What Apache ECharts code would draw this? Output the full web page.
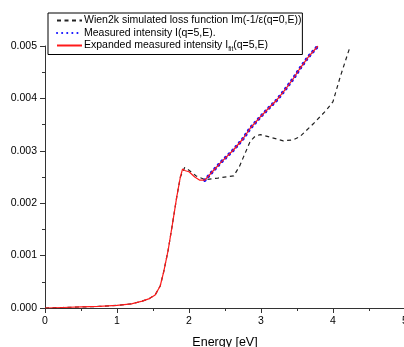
<!DOCTYPE html>
<html><head><meta charset="utf-8">
<script src="https://cdn.jsdelivr.net/npm/echarts@6/dist/echarts.min.js"></script>
<style>html,body{margin:0;padding:0;background:#fff}#c{width:404px;height:347px}</style>
</head><body><div id="c"></div>
<script>
const seriesNames = ['Wien2k simulated loss function Im(-1/ε(q=0,E))','Measured intensity I(q=5,E).','Expanded measured intensity I(q=5,E)'];
const xTicks = [0,1,2,3,4,5];
// Wien2k simulated
const simE = [0,0.25,0.5,0.75,1.0,1.2,1.35,1.45,1.53,1.6,1.65,1.71,1.77,1.83,1.88,1.94,2.0,2.1,2.22,2.4,2.62,2.7,2.75,2.85,2.92,2.99,3.125,3.31,3.45,3.54,3.73,3.91,4.0,4.1,4.24];
const simV = [0,0.00001,0.00002,0.00003,0.00005,0.00008,0.00013,0.00018,0.00025,0.00042,0.0007,0.0011,0.0016,0.00212,0.0025,0.00268,0.00263,0.00252,0.00245,0.00248,0.00252,0.0027,0.00286,0.00318,0.00328,0.00331,0.00326,0.00319,0.00321,0.00327,0.00352,0.00378,0.00394,0.00441,0.005];
// Measured intensity
const measE = [2.22,2.33,2.45,2.62,2.75,2.85,3.0,3.125,3.22,3.33,3.45,3.54,3.65,3.79];
const measV = [0.00244,0.00261,0.00279,0.00302,0.00323,0.00343,0.00366,0.00384,0.00397,0.00416,0.00438,0.00457,0.00478,0.005];
// Expanded measured intensity
const expE = [0,0.25,0.5,0.75,1.0,1.2,1.35,1.45,1.53,1.6,1.65,1.71,1.77,1.83,1.88,1.91,1.95,2.0,2.08,2.15,2.22,2.33,2.45,2.62,2.75,2.85,3.0,3.125,3.22,3.33,3.45,3.54,3.65,3.79];
const expV = [0,0.00001,0.00002,0.00003,0.00005,0.00008,0.00013,0.00018,0.00025,0.00042,0.0007,0.0011,0.0016,0.00212,0.0025,0.00265,0.00262,0.0026,0.0025,0.00244,0.00244,0.00261,0.00279,0.00302,0.00323,0.00343,0.00366,0.00384,0.00397,0.00416,0.00438,0.00457,0.00478,0.005];
const zip = (a,b)=>a.map((v,i)=>[v,b[i]]);
const chart = echarts.init(document.getElementById('c'));
const font = 'Liberation Sans, Arial, sans-serif';
chart.setOption({
  animation:false,
  textStyle:{fontFamily:font},
  grid:{left:45,right:-1,top:46,bottom:39,containLabel:false,outerBoundsMode:'none'},
  legend:{
    orient:'vertical', left:48, top:13, padding:[2,1,2,8], itemGap:1.5,
    borderColor:'#000', borderWidth:1, backgroundColor:'#fff',
    icon:'inherit', itemWidth:25, itemHeight:11,
    itemStyle:{opacity:0},
    textStyle:{fontSize:10.5,color:'#000',fontFamily:font,padding:[0,0,0,-3],
      rich:{sub:{fontSize:6.5,color:'#000',padding:[7,0,0,0]}}},
    formatter:function(n){ if(n===seriesNames[2]) return 'Expanded measured intensity I{sub|fit}(q=5,E)'; return n; },
    data:seriesNames
  },
  xAxis:{type:'value',min:0,max:5,interval:1,
    name:'Energy [eV]',nameLocation:'middle',nameGap:28,nameTextStyle:{fontSize:12.5,color:'#000',fontFamily:font,verticalAlign:'top'},
    axisLine:{lineStyle:{color:'#333',width:1}},
    axisTick:{inside:false,length:5,lineStyle:{color:'#333'}},
    minorTick:{show:true,splitNumber:2,length:3,lineStyle:{color:'#333'}},
    axisLabel:{fontSize:10.5,color:'#000',margin:8},
    splitLine:{show:false}},
  yAxis:{type:'value',min:0,max:0.005,interval:0.001,
    axisLine:{show:true,lineStyle:{color:'#333',width:1}},
    axisTick:{show:true,inside:false,length:5,lineStyle:{color:'#333'}},
    minorTick:{show:true,splitNumber:2,length:3,lineStyle:{color:'#333'}},
    axisLabel:{fontSize:10.5,color:'#000',margin:8,formatter:v=>v.toFixed(3)},
    splitLine:{show:false}},
  series:[
    {name:seriesNames[0],type:'line',data:zip(simE,simV),symbol:'none',clip:true,z:1,
      lineStyle:{color:'#222',width:1.2,type:[4,3.5]},itemStyle:{color:'#444'}},
    {name:seriesNames[1],type:'line',data:zip(measE,measV),symbol:'none',clip:true,z:2,
      lineStyle:{color:'#1010ff',width:3.5,type:[0.1,5],cap:'round'},itemStyle:{color:'#1010ff'}},
    {name:seriesNames[2],type:'line',data:zip(expE,expV),symbol:'none',clip:true,z:3,
      lineStyle:{color:'#ff1a1a',width:1.2},itemStyle:{color:'#ff1a1a'}}
  ]
});
</script></body></html>
